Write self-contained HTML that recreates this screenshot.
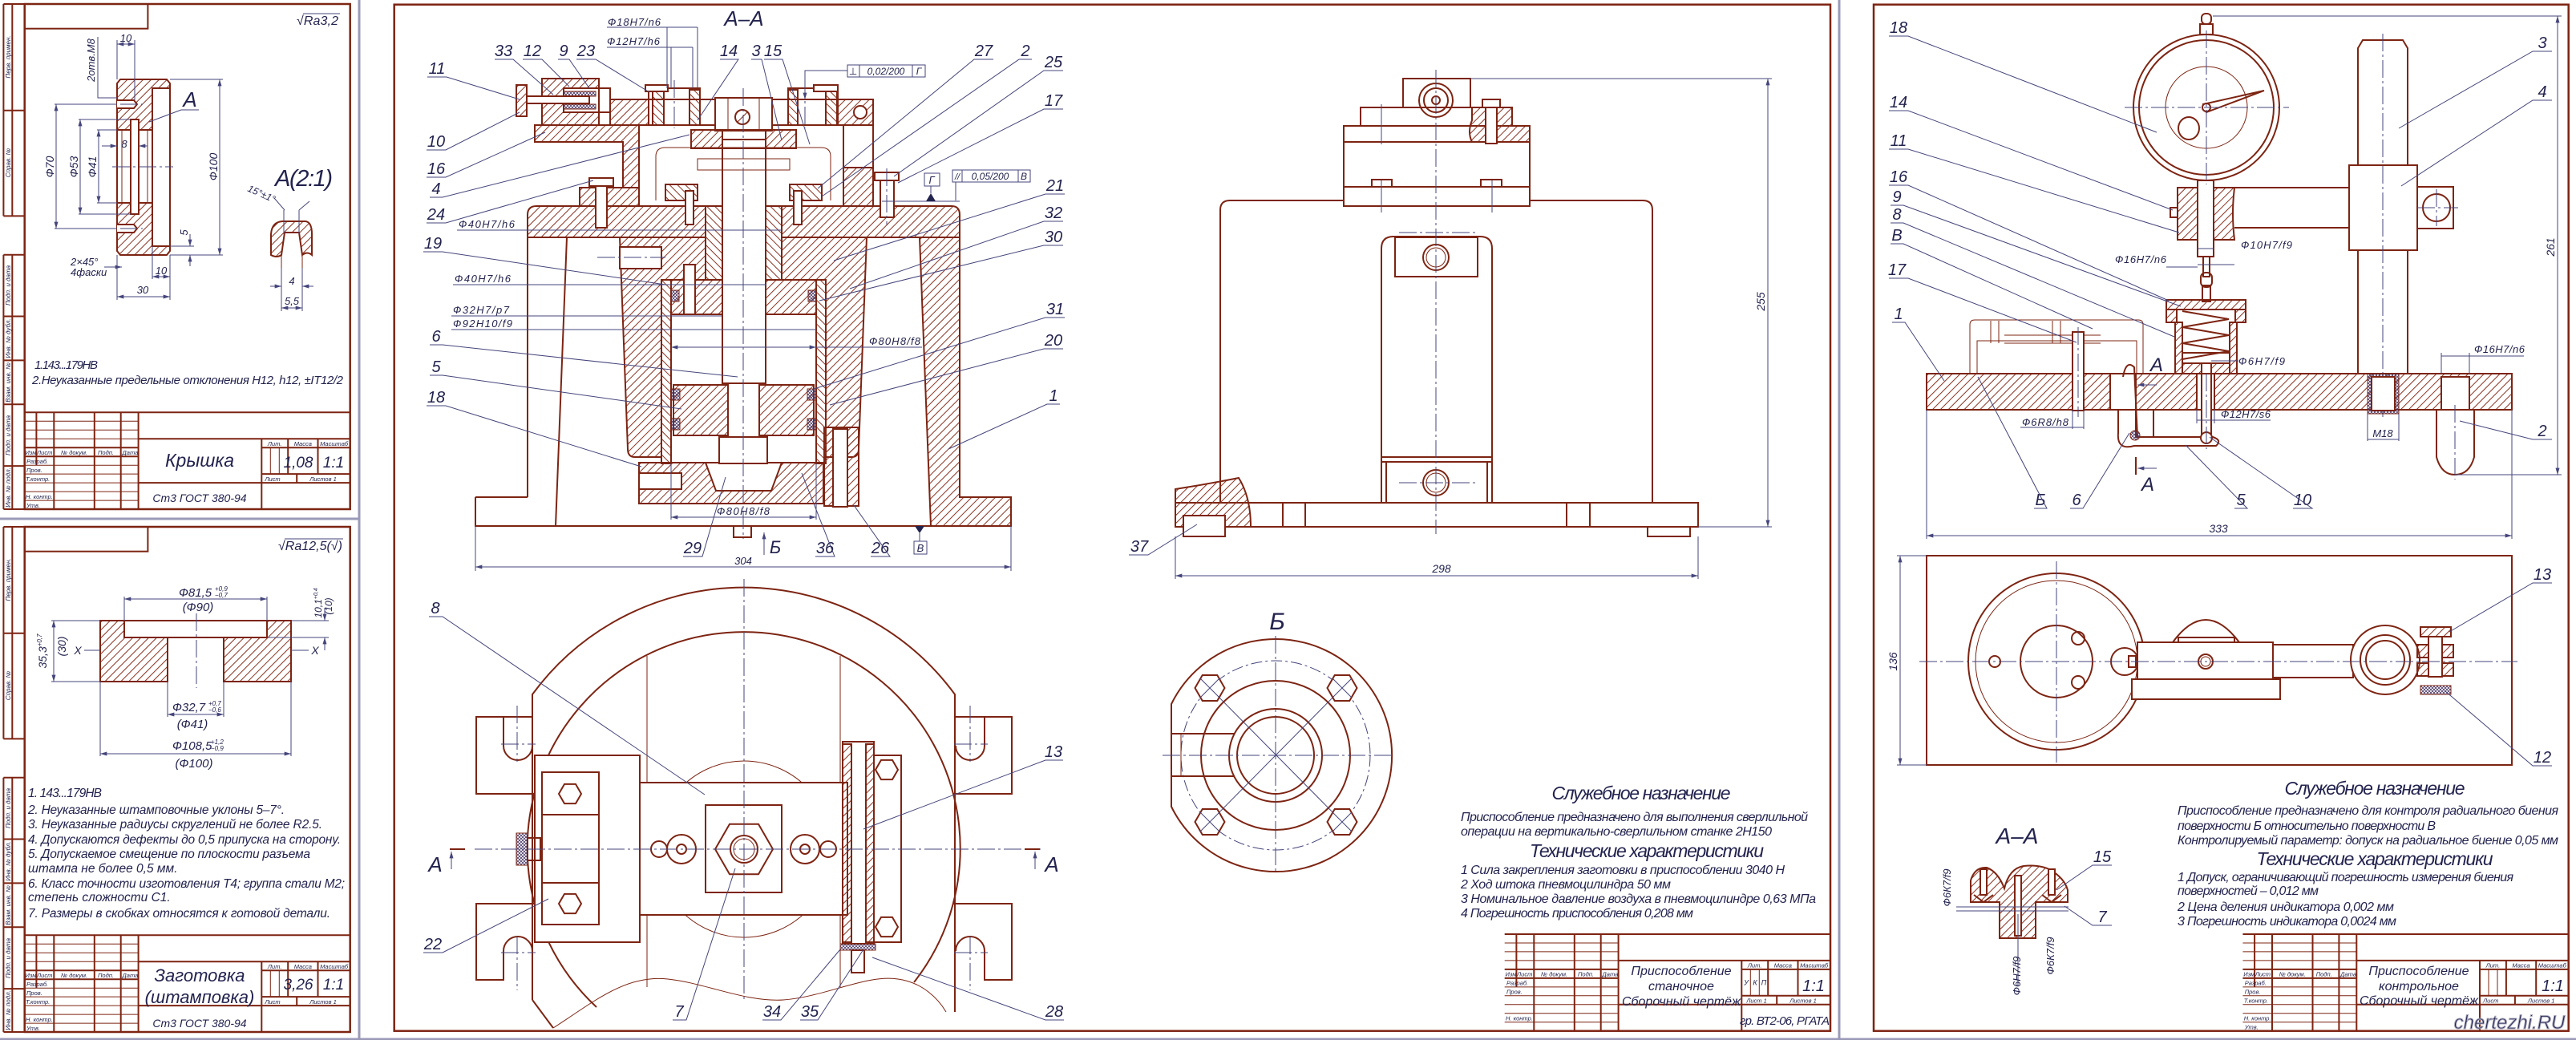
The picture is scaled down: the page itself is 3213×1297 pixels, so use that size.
<!DOCTYPE html>
<html lang="ru"><head><meta charset="utf-8"><title>Чертежи</title>
<style>html,body{margin:0;padding:0;background:#fff}svg{display:block}</style>
</head><body>
<svg xmlns="http://www.w3.org/2000/svg" width="3213" height="1297" viewBox="0 0 3213 1297">
<style>
.o{fill:none;stroke:#7d2412;stroke-width:2}
.ow{fill:#fff;stroke:#7d2412;stroke-width:2}
.t{fill:none;stroke:#7d2412;stroke-width:1}
.tw{fill:#fff;stroke:#7d2412;stroke-width:1}
.h{fill:url(#h1);stroke:#7d2412;stroke-width:2}
.k{fill:url(#h2);stroke:#7d2412;stroke-width:2}
.x{fill:url(#hx);stroke:#7d2412;stroke-width:1}
.d{fill:none;stroke:#45457c;stroke-width:1}
.da{fill:none;stroke:#45457c;stroke-width:1;marker-start:url(#ar);marker-end:url(#ar)}
.de{fill:none;stroke:#45457c;stroke-width:1;marker-end:url(#ar)}
.c{fill:none;stroke:#45457c;stroke-width:1;stroke-dasharray:22 4 3 4}
.g{fill:none;stroke:#9a9ab8;stroke-width:3}
.f{fill:none;stroke:#7d2412;stroke-width:2.5}
text{font-family:"Liberation Sans","DejaVu Sans",sans-serif;font-style:italic;fill:#23234f}
.m{text-anchor:middle}
</style>
<defs>
<pattern id="h1" width="7" height="7" patternUnits="userSpaceOnUse" patternTransform="rotate(45)"><line x1="0.5" y1="0" x2="0.5" y2="7" stroke="#8a3322" stroke-width="1"/></pattern>
<pattern id="h2" width="7" height="7" patternUnits="userSpaceOnUse" patternTransform="rotate(-45)"><line x1="0.5" y1="0" x2="0.5" y2="7" stroke="#8a3322" stroke-width="1"/></pattern>
<pattern id="hx" width="4" height="4" patternUnits="userSpaceOnUse"><path d="M0 0L4 4M4 0L0 4" stroke="#4a3a6a" stroke-width="0.8"/></pattern>
<marker id="ar" viewBox="0 0 10 6" refX="10" refY="3" markerWidth="9" markerHeight="5" orient="auto-start-reverse" markerUnits="userSpaceOnUse"><path d="M0 0L10 3L0 6z" fill="#45457c"/></marker>
</defs>
<rect width="3213" height="1297" fill="#fff"/>

<!-- page edges -->
<path class="g" d="M448 0V1296M0 1296H3213M2294 0V1296M0 647H448"/>

<!-- ================= LEFT SHEET 1 ================= -->
<g>
<rect x="30.7" y="5" width="406" height="630" class="f"/>
<path class="o" d="M4.4 5V269.4M15.3 5V269.4M4.4 5H30.7M4.4 137.7H30.7M4.4 269.4H30.7M4.4 317.7V635M15.3 317.7V635M4.4 317.7H30.7M4.4 394.5H30.7M4.4 449.4H30.7M4.4 504.3H30.7M4.4 581.1H30.7M4.4 635H30.7"/>
<rect x="30.7" y="5" width="153.7" height="30.7" class="o"/>
<g font-size="8">
<text transform="translate(13,71) rotate(-90)" class="m">Перв. примен.</text>
<text transform="translate(13,203) rotate(-90)" class="m">Справ. №</text>
<text transform="translate(13,356) rotate(-90)" class="m">Подп. и дата</text>
<text transform="translate(13,422) rotate(-90)" class="m">Инв. № дубл.</text>
<text transform="translate(13,477) rotate(-90)" class="m">Взам. инв. №</text>
<text transform="translate(13,543) rotate(-90)" class="m">Подп. и дата</text>
<text transform="translate(13,608) rotate(-90)" class="m">Инв. № подл.</text>
</g>
<path class="o" d="M30.7 514.3H436.7M172.6 514.3V635M67.3 514.3V635M117.8 514.3V635M150.7 514.3V635M45.4 514.3V580.2M172.6 547.2H436.7M172.6 602.1H436.7M326.3 547.2V635M326.3 558.2H436.7M326.3 591.1H436.7M359.2 547.2V591.1M396.5 547.2V591.1M370.2 591.1V602.1M30.7 558.2H172.6M30.7 569.2H172.6"/>
<path class="t" d="M30.7 525.3H172.6M30.7 536.2H172.6M30.7 547.2H172.6M30.7 580.2H172.6M30.7 591.1H172.6M30.7 602.1H172.6M30.7 613.1H172.6M30.7 624.1H172.6M337.3 558.2V591.1M348.3 558.2V591.1"/>
<g font-size="7.5">
<text x="31.5" y="567">Изм</text><text x="46" y="567">Лист</text><text x="76" y="567">№ докум.</text><text x="122" y="567">Подп.</text><text x="152.5" y="567">Дата</text>
<text x="33" y="578">Разраб.</text><text x="33" y="589">Пров.</text><text x="32" y="600">Т.контр.</text><text x="32" y="622">Н. контр.</text><text x="33" y="633">Утв.</text>
<text x="342.7" y="556" class="m">Лит.</text><text x="377.8" y="556" class="m">Масса</text><text x="416.6" y="556" class="m">Масштаб</text>
<text x="340" y="600" class="m">Лист</text><text x="403" y="600" class="m">Листов 1</text>
</g>
<text x="249" y="582" class="m" font-size="23">Крышка</text>
<text x="249" y="626" class="m" font-size="14">Ст3 ГОСТ 380-94</text>
<text x="372" y="583" class="m" font-size="19">1,08</text>
<text x="416" y="583" class="m" font-size="19">1:1</text>

<text x="370" y="31" font-size="16" textLength="52">√Ra3,2</text>
<path class="d" d="M378 17H424"/>

<path class="h" d="M146 104L150 99H208L212 104V110H190V162H146Z"/>
<path class="h" d="M146 253H190V307H212V313L208 318H150L146 313Z"/>
<rect x="146" y="162" width="44" height="91" class="ow"/>
<rect x="190" y="110" width="22" height="197" class="ow"/>
<rect x="163" y="149" width="10" height="118" class="ow"/>
<path class="t" d="M152 162V253M184 162V253"/>
<path class="ow" d="M146 125H167L171 130L167 135H146"/>
<path class="ow" d="M146 280H167L171 285L167 290H146"/>
<path class="c" d="M140 208H216M150 130H178M150 285H178"/>
<path class="d" d="M68 130H146M68 285H146M98 149H163M98 267H163M121 162H146M121 253H146M212 99H278M212 318H278"/>
<line class="da" x1="70" y1="130" x2="70" y2="285"/>
<line class="da" x1="100" y1="149" x2="100" y2="267"/>
<line class="da" x1="123" y1="162" x2="123" y2="253"/>
<line class="da" x1="274" y1="99" x2="274" y2="318"/>
<g font-size="14">
<text transform="translate(67,208) rotate(-90)" class="m">Ф70</text>
<text transform="translate(97,208) rotate(-90)" class="m">Ф53</text>
<text transform="translate(120,208) rotate(-90)" class="m">Ф41</text>
<text transform="translate(271,208) rotate(-90)" class="m">Ф100</text>
</g>
<path class="d" d="M146 50V99M168 50V125"/>
<line class="da" x1="146" y1="55" x2="168" y2="55"/>
<text x="157" y="52" class="m" font-size="13">10</text>
<path class="d" d="M122 46V122H146"/>
<text transform="translate(118,75) rotate(-90)" class="m" font-size="13">2отв.М8</text>
<text x="237" y="133" class="m" font-size="26">А</text>
<path class="d" d="M226 137H248M226 137L186 152"/>
<path class="de" d="M127 182H146"/><path class="de" d="M184 182H173"/>
<text x="155" y="184" class="m" font-size="13">8</text>
<path class="d" d="M212 307H242M212 318H242"/>
<path class="de" d="M237 292V307"/><path class="de" d="M237 332V318"/>
<text transform="translate(234,290) rotate(-90)" class="m" font-size="13">5</text>
<text x="88" y="331" font-size="13">2×45°</text>
<text x="88" y="344" font-size="13">4фаски</text>
<path class="de" d="M130 333H152"/>
<path class="d" d="M190 307V348M212 318V374M146 318V374"/>
<line class="da" x1="190" y1="345" x2="212" y2="345"/>
<text x="201" y="342" class="m" font-size="13">10</text>
<line class="da" x1="146" y1="370" x2="212" y2="370"/>
<text x="178" y="366" class="m" font-size="13">30</text>
<text x="343" y="232" font-size="29" textLength="72">А(2:1)</text>
<path class="h" d="M338 318V292Q339 277 352 276H381Q389 277 389 292V318Q383 313 377 318L373 290H355L351 318Q345 322 338 318Z"/>
<path class="t" d="M351 318V334M377 318V334"/>
<path class="d" d="M354 292V262M373 292V262M351 334V388M377 334V388M355 262L342 247M373 262L386 251"/>
<text transform="translate(308,238) rotate(24)" font-size="12">15°±1°</text>
<path class="de" d="M337 357H351"/><path class="de" d="M391 357H377"/>
<text x="364" y="355" class="m" font-size="13">4</text>
<line class="da" x1="351" y1="384" x2="377" y2="384"/>
<text x="364" y="380" class="m" font-size="13">5,5</text>
<text x="43" y="460" font-size="15" textLength="79">1.143...179НВ</text>
<text x="40" y="479" font-size="15" textLength="388">2.Неуказанные предельные отклонения H12, h12, ±IT12/2</text>
</g>

<!-- ================= LEFT SHEET 2 ================= -->
<g transform="translate(0,652)">
<rect x="30.7" y="5" width="406" height="630" class="f"/>
<path class="o" d="M4.4 5V269.4M15.3 5V269.4M4.4 5H30.7M4.4 137.7H30.7M4.4 269.4H30.7M4.4 317.7V635M15.3 317.7V635M4.4 317.7H30.7M4.4 394.5H30.7M4.4 449.4H30.7M4.4 504.3H30.7M4.4 581.1H30.7M4.4 635H30.7"/>
<rect x="30.7" y="5" width="153.7" height="30.7" class="o"/>
<g font-size="8">
<text transform="translate(13,71) rotate(-90)" class="m">Перв. примен.</text>
<text transform="translate(13,203) rotate(-90)" class="m">Справ. №</text>
<text transform="translate(13,356) rotate(-90)" class="m">Подп. и дата</text>
<text transform="translate(13,422) rotate(-90)" class="m">Инв. № дубл.</text>
<text transform="translate(13,477) rotate(-90)" class="m">Взам. инв. №</text>
<text transform="translate(13,543) rotate(-90)" class="m">Подп. и дата</text>
<text transform="translate(13,608) rotate(-90)" class="m">Инв. № подл.</text>
</g>
<path class="o" d="M30.7 514.3H436.7M172.6 514.3V635M67.3 514.3V635M117.8 514.3V635M150.7 514.3V635M45.4 514.3V580.2M172.6 547.2H436.7M172.6 602.1H436.7M326.3 547.2V635M326.3 558.2H436.7M326.3 591.1H436.7M359.2 547.2V591.1M396.5 547.2V591.1M370.2 591.1V602.1M30.7 558.2H172.6M30.7 569.2H172.6"/>
<path class="t" d="M30.7 525.3H172.6M30.7 536.2H172.6M30.7 547.2H172.6M30.7 580.2H172.6M30.7 591.1H172.6M30.7 602.1H172.6M30.7 613.1H172.6M30.7 624.1H172.6M337.3 558.2V591.1M348.3 558.2V591.1"/>
<g font-size="7.5">
<text x="31.5" y="567">Изм</text><text x="46" y="567">Лист</text><text x="76" y="567">№ докум.</text><text x="122" y="567">Подп.</text><text x="152.5" y="567">Дата</text>
<text x="33" y="578">Разраб.</text><text x="33" y="589">Пров.</text><text x="32" y="600">Т.контр.</text><text x="32" y="622">Н. контр.</text><text x="33" y="633">Утв.</text>
<text x="342.7" y="556" class="m">Лит.</text><text x="377.8" y="556" class="m">Масса</text><text x="416.6" y="556" class="m">Масштаб</text>
<text x="340" y="600" class="m">Лист</text><text x="403" y="600" class="m">Листов 1</text>
</g>
</g>
<text x="249" y="1224" class="m" font-size="22">Заготовка</text>
<text x="249" y="1251" class="m" font-size="22">(штамповка)</text>
<text x="249" y="1281" class="m" font-size="14">Ст3 ГОСТ 380-94</text>
<text x="372" y="1234" class="m" font-size="19">3,26</text>
<text x="416" y="1234" class="m" font-size="19">1:1</text>
<text x="347" y="686" font-size="16" textLength="80">√Ra12,5(√)</text>
<path class="d" d="M355 672H428"/>
<path class="h" d="M125 774H155V795H209V850H125Z"/>
<path class="h" d="M333 774H363V850H279V795H333Z"/>
<path class="o" d="M155 774H333V795H155M209 795V850M279 795V850"/>
<path class="c" d="M245 765V858M105 811H125M363 811H385"/>
<text x="97" y="816" class="m" font-size="14">X</text>
<text x="393" y="816" class="m" font-size="14">X</text>
<path class="d" d="M155 774V744M333 774V744M209 850V894M279 850V894M125 850V943M363 850V943M64 774H125M64 850H125M363 774H410M333 795H410"/>
<line class="da" x1="155" y1="747" x2="333" y2="747"/>
<text x="223" y="744" font-size="15">Ф81,5</text><text x="268" y="737" font-size="8">+0,9</text><text x="268" y="745" font-size="8">−0,7</text>
<text x="247" y="762" class="m" font-size="15">(Ф90)</text>
<line class="da" x1="209" y1="891" x2="279" y2="891"/>
<text x="215" y="887" font-size="15">Ф32,7</text><text x="260" y="880" font-size="8">+0,7</text><text x="260" y="888" font-size="8">−0,6</text>
<text x="240" y="908" class="m" font-size="15">(Ф41)</text>
<line class="da" x1="125" y1="940" x2="363" y2="940"/>
<text x="215" y="935" font-size="15">Ф108,5</text><text x="263" y="928" font-size="8">+1,2</text><text x="263" y="936" font-size="8">−0,9</text>
<text x="242" y="957" class="m" font-size="15">(Ф100)</text>
<line class="da" x1="67" y1="774" x2="67" y2="850"/>
<text transform="translate(58,812) rotate(-90)" class="m" font-size="14">35,3<tspan font-size="8" dy="-6">+0,7</tspan></text>
<text transform="translate(82,806) rotate(-90)" class="m" font-size="14">(30)</text>
<path class="de" d="M405 758V774"/><path class="de" d="M405 811V795"/>
<text transform="translate(401,752) rotate(-90)" class="m" font-size="12">10,1<tspan font-size="7" dy="-5">+0,4</tspan></text>
<text transform="translate(414,756) rotate(-90)" class="m" font-size="12">(10)</text>
<g font-size="15.5">
<text x="35" y="994" textLength="92">1. 143...179НВ</text>
<text x="35" y="1015" textLength="320">2. Неуказанные штамповочные уклоны 5–7°.</text>
<text x="35" y="1033" textLength="367">3. Неуказанные радиусы скруглений не более R2.5.</text>
<text x="35" y="1052" textLength="390">4. Допускаются дефекты до 0,5 припуска на сторону.</text>
<text x="35" y="1070" textLength="352">5. Допускаемое смещение по плоскости разъема</text>
<text x="35" y="1088">штампа не более 0,5 мм.</text>
<text x="35" y="1107" textLength="395">6. Класс точности изготовления Т4; группа стали М2;</text>
<text x="35" y="1124">степень сложности С1.</text>
<text x="35" y="1144" textLength="377">7. Размеры в скобках относятся к готовой детали.</text>
</g>

<!-- ================= MIDDLE SHEET ================= -->
<rect x="491.7" y="5.7" width="1791.3" height="1280" class="f"/>
<g transform="translate(1846,650.7)">
<path class="o" d="M30.7 514.3H436.7M172.6 514.3V635M67.3 514.3V635M117.8 514.3V635M150.7 514.3V635M45.4 514.3V580.2M172.6 547.2H436.7M172.6 602.1H436.7M326.3 547.2V635M326.3 558.2H436.7M326.3 591.1H436.7M359.2 547.2V591.1M396.5 547.2V591.1M370.2 591.1V602.1M30.7 558.2H172.6M30.7 569.2H172.6"/>
<path class="t" d="M30.7 525.3H172.6M30.7 536.2H172.6M30.7 547.2H172.6M30.7 580.2H172.6M30.7 591.1H172.6M30.7 602.1H172.6M30.7 613.1H172.6M30.7 624.1H172.6M337.3 558.2V591.1M348.3 558.2V591.1"/>
<g font-size="7.5">
<text x="31.5" y="567">Изм</text><text x="46" y="567">Лист</text><text x="76" y="567">№ докум.</text><text x="122" y="567">Подп.</text><text x="152.5" y="567">Дата</text>
<text x="33" y="578">Разраб.</text><text x="33" y="589">Пров.</text><text x="32" y="622">Н. контр.</text>
<text x="342.7" y="556" class="m">Лит.</text><text x="377.8" y="556" class="m">Масса</text><text x="416.6" y="556" class="m">Масштаб</text>
<text x="345" y="600" class="m">Лист 1</text><text x="403" y="600" class="m">Листов 1</text>
<text x="332" y="578" class="m" font-size="9">У</text><text x="343" y="578" class="m" font-size="9">К</text><text x="354" y="578" class="m" font-size="9">П</text>
</g>
</g>
<text x="2097" y="1216" class="m" font-size="16">Приспособление</text>
<text x="2097" y="1235" class="m" font-size="16">станочное</text>
<text x="2097" y="1254" class="m" font-size="16">Сборочный чертёж</text>
<text x="2262" y="1236" class="m" font-size="20">1:1</text>
<text x="2170" y="1278" font-size="15" textLength="112">гр. ВТ2-06, РГАТА</text>

<!-- ---- Section A-A ---- -->
<text x="928" y="32" class="m" font-size="26">А–А</text>
<path class="o" d="M593 620H658M593 620V656H1261V620"/>
<rect x="915" y="656" width="22" height="14" class="o"/>
<path class="h" d="M658 296V268Q658 257 669 257H880V296Z"/>
<path class="h" d="M975 257H1187Q1197 257 1197 268V296H975Z"/>
<path class="h" d="M773 296H880V349H825V570H792Q783 570 783 560Z"/>
<path class="h" d="M975 296H1081L1071 560Q1071 570 1062 570H1030V349H975Z"/>
<path class="h" d="M1147 296H1197V620H1261V656H1161Z"/>
<path class="o" d="M658 296V620M707 296L693 656"/>
<rect x="773" y="308" width="52" height="27" class="ow"/>
<path class="c" d="M745 321H830"/>
<rect x="825" y="349" width="12" height="229" class="k"/>
<rect x="1018" y="349" width="12" height="229" class="k"/>
<path class="h" d="M837 349H901V392H837Z"/>
<path class="h" d="M955 349H1018V392H955Z"/>
<rect x="853" y="330" width="14" height="62" class="ow"/>
<rect x="837" y="362" width="10" height="14" class="x"/>
<rect x="1008" y="362" width="10" height="14" class="x"/>
<path class="h" d="M840 480H1015V543H840Z"/>
<rect x="837" y="485" width="11" height="14" class="x"/>
<rect x="837" y="522" width="11" height="14" class="x"/>
<rect x="1007" y="485" width="11" height="14" class="x"/>
<rect x="1007" y="522" width="11" height="14" class="x"/>
<path class="h" d="M797 577H1027V628H797Z"/>
<rect x="797" y="590" width="53" height="20" class="ow"/>
<path class="ow" d="M880 577H975L962 612H893Z"/>
<rect x="897" y="545" width="60" height="33" class="ow"/>
<rect x="880" y="257" width="21" height="92" class="k"/>
<rect x="955" y="257" width="20" height="92" class="k"/>
<rect x="901" y="174" width="54" height="304" class="ow"/>
<rect x="908" y="478" width="39" height="67" class="ow"/>
<rect x="1028" y="533" width="43" height="98" class="h"/>
<rect x="1039" y="535" width="18" height="97" class="ow"/>
<path class="h" d="M667 156H797V234H777V177H667Z"/>
<rect x="723" y="234" width="74" height="23" class="h"/>
<rect x="743" y="228" width="14" height="56" class="ow"/>
<rect x="735" y="222" width="30" height="10" class="ow"/>
<rect x="747" y="124" width="342" height="32" class="o"/>
<rect x="761" y="124" width="48" height="32" class="h"/>
<rect x="1045" y="124" width="44" height="32" class="h"/>
<circle cx="1073" cy="140" r="8" class="ow"/>
<rect x="809" y="110" width="64" height="46" class="o"/>
<rect x="814" y="112" width="14" height="44" class="k"/>
<rect x="860" y="112" width="13" height="44" class="k"/>
<rect x="805" y="106" width="28" height="8" class="ow"/>
<rect x="983" y="110" width="62" height="46" class="o"/>
<rect x="983" y="112" width="12" height="44" class="k"/>
<rect x="1030" y="112" width="14" height="44" class="k"/>
<rect x="1015" y="106" width="30" height="8" class="ow"/>
<rect x="676" y="98" width="71" height="58" class="h"/>
<rect x="703" y="110" width="44" height="30" class="ow"/>
<rect x="703" y="114" width="40" height="6" class="x"/>
<rect x="703" y="130" width="40" height="6" class="x"/>
<rect x="747" y="110" width="14" height="30" class="ow"/>
<rect x="644" y="106" width="13" height="39" class="h"/>
<rect x="657" y="120" width="78" height="9" class="ow"/>
<rect x="892" y="122" width="71" height="41" class="ow"/>
<path class="t" d="M908 122V163M947 122V163"/>
<circle cx="926" cy="146" r="9" class="o"/><path class="t" d="M920 152L932 140"/>
<rect x="862" y="162" width="131" height="23" class="o"/>
<rect x="862" y="162" width="39" height="23" class="h"/>
<rect x="955" y="162" width="38" height="23" class="h"/>
<path class="t" d="M818 250V195Q818 184 830 184H1024Q1036 184 1036 195V250"/>
<path class="t" d="M870 198H985V212H870Z"/>
<rect x="830" y="230" width="40" height="20" class="k"/>
<rect x="985" y="230" width="40" height="20" class="k"/>
<rect x="855" y="238" width="10" height="42" class="ow"/>
<rect x="990" y="238" width="10" height="42" class="ow"/>
<path class="o" d="M1052 156V257M1089 124V257"/>
<rect x="1052" y="209" width="37" height="48" class="h"/>
<rect x="1091" y="215" width="30" height="10" class="ow"/>
<rect x="1098" y="225" width="17" height="46" class="ow"/>
<path class="c" d="M927 110V672M841 100V160M1004 100V160M1106 210V280"/>
<path class="d" d="M1100 251H1197"/>
<path d="M1155 251H1167L1161 241Z" fill="#23234f"/>
<path class="d" d="M1161 241V232"/>
<rect x="1153" y="216" width="19" height="16" class="d"/><text x="1162" y="229" class="m" font-size="13">Г</text>
<rect x="1188" y="212" width="97" height="15" class="d"/><path class="d" d="M1200 212V227M1270 212V227M1192 227V250"/>
<text x="1194" y="224" class="m" font-size="11">//</text><text x="1235" y="224" class="m" font-size="12">0,05/200</text><text x="1277" y="224" class="m" font-size="12">В</text>
<rect x="1057" y="81" width="97" height="15" class="d"/><path class="d" d="M1072 81V96M1138 81V96"/>
<path class="de" d="M1057 88H1004V124"/>
<text x="1064" y="93" class="m" font-size="12">⊥</text><text x="1105" y="93" class="m" font-size="12">0,02/200</text><text x="1146" y="93" class="m" font-size="12">Г</text>
<path d="M1141 656H1153L1147 665Z" fill="#23234f"/>
<path class="d" d="M1147 665V675"/>
<rect x="1140" y="675" width="16" height="16" class="d"/><text x="1148" y="688" class="m" font-size="13">В</text>
<path class="de" d="M953 692V664"/><text x="967" y="690" class="m" font-size="22">Б</text>
<path class="d" d="M832 34V110M870 34V110M757 34H870M837 59V110M864 59V110M757 59H864"/>
<text x="758" y="32" font-size="13" textLength="66">Ф18H7/n6</text>
<text x="757" y="56" font-size="13" textLength="66">Ф12H7/h6</text>
<path class="d" d="M570 287H975M565 355H956M563 394H900M563 411H1018"/>
<text x="572" y="284" font-size="13" textLength="70">Ф40H7/h6</text>
<text x="567" y="352" font-size="13" textLength="70">Ф40H7/h6</text>
<text x="565" y="391" font-size="13" textLength="70">Ф32H7/p7</text>
<text x="565" y="408" font-size="13" textLength="74">Ф92H10/f9</text>
<line class="da" x1="837" y1="433" x2="1018" y2="433"/><path class="d" d="M1018 433H1150"/>
<text x="1084" y="430" font-size="13" textLength="64">Ф80H8/f8</text>
<path class="d" d="M837 578V648M1018 578V648"/>
<line class="da" x1="837" y1="645" x2="1018" y2="645"/>
<text x="894" y="642" font-size="13" textLength="66">Ф80H8/f8</text>
<path class="d" d="M593 656V712M1261 656V712"/>
<line class="da" x1="593" y1="707" x2="1261" y2="707"/>
<text x="927" y="704" class="m" font-size="13">304</text>
<g font-size="20">
<text x="545" y="92" class="m">11</text><text x="628" y="70" class="m">33</text><text x="664" y="70" class="m">12</text><text x="703" y="70" class="m">9</text><text x="731" y="70" class="m">23</text>
<text x="909" y="70" class="m">14</text><text x="943" y="70" class="m">3</text><text x="964" y="70" class="m">15</text>
<text x="544" y="183" class="m">10</text><text x="544" y="217" class="m">16</text><text x="544" y="242" class="m">4</text><text x="544" y="274" class="m">24</text>
<text x="540" y="310" class="m">19</text><text x="544" y="426" class="m">6</text><text x="544" y="464" class="m">5</text><text x="544" y="502" class="m">18</text>
<text x="864" y="690" class="m">29</text><text x="1029" y="690" class="m">36</text><text x="1098" y="690" class="m">26</text>
<text x="1227" y="70" class="m">27</text><text x="1279" y="70" class="m">2</text><text x="1314" y="84" class="m">25</text><text x="1314" y="132" class="m">17</text>
<text x="1316" y="238" class="m">21</text><text x="1314" y="272" class="m">32</text><text x="1314" y="302" class="m">30</text><text x="1316" y="392" class="m">31</text>
<text x="1314" y="431" class="m">20</text><text x="1314" y="500" class="m">1</text>
</g>
<path class="d" d="M533 96H557L648 124M617 74H640L690 118M652 74H676L710 108M696 74H710L735 110M719 74H743L810 115M898 74H921L870 150M937 74H950L975 175M953 74H976L1010 180M532 187H556L648 140M532 221H556L680 165M536 246H552L860 168M532 278H556L740 225M528 314H552L830 355M536 430H552L920 470M536 468H552L850 510M532 506H556L800 582M852 694H876L905 595M1017 694H1041L1000 590M1086 694H1110L1065 630M1239 74H1215L1020 235M1287 74H1271L1025 245M1326 88H1302L1115 220M1326 136H1302L1120 228M1328 242H1304L1040 325M1326 276H1302L1060 360M1326 306H1302L1022 375M1328 396H1304L1015 485M1326 435H1302L1035 505M1322 504H1306L1183 560"/>

<!-- ---- side view ---- -->
<path class="o" d="M1750 134V98H1834V134"/>
<rect x="1697" y="134" width="189" height="23" class="o"/>
<rect x="1676" y="157" width="232" height="20" class="o"/>
<rect x="1676" y="177" width="232" height="56" class="o"/>
<rect x="1676" y="233" width="232" height="24" class="o"/>
<path class="h" d="M1836 134H1886V157H1908V177H1836Q1830 165 1836 150Z"/>
<rect x="1849" y="124" width="22" height="10" class="ow"/>
<rect x="1853" y="134" width="14" height="45" class="ow"/>
<circle cx="1791" cy="125" r="21" class="o"/><circle cx="1791" cy="125" r="15" class="o"/><circle cx="1791" cy="125" r="5" class="o"/>
<rect x="1711" y="224" width="25" height="9" class="o"/><rect x="1847" y="224" width="26" height="9" class="o"/>
<path class="d" d="M1723 130V180M1723 225V265M1861 225V265"/>
<path class="o" d="M1522 627V262Q1522 250 1534 250H1676M1908 250H2049Q2061 250 2061 262V627"/>
<path class="o" d="M1723 627V310Q1723 295 1738 295H1846Q1861 295 1861 310V627"/>
<rect x="1740" y="296" width="103" height="49" class="o"/>
<circle cx="1791" cy="321" r="16" class="o"/><circle cx="1791" cy="321" r="12" class="t"/>
<path class="o" d="M1723 570H1861M1723 576H1861"/>
<rect x="1729" y="576" width="126" height="51" class="o"/>
<circle cx="1791" cy="602" r="16" class="o"/><circle cx="1791" cy="602" r="12" class="t"/>
<rect x="1466" y="627" width="652" height="30" class="o"/>
<path class="o" d="M1600 627V657M1628 627V657M1954 627V657M1983 627V657"/>
<path class="h" d="M1466 627V610Q1505 604 1545 596Q1560 620 1560 657H1466Z"/>
<rect x="1476" y="643" width="52" height="26" class="ow"/>
<rect x="2055" y="657" width="53" height="12" class="o"/>
<path class="c" d="M1791 87V666M1745 290H1840M1745 602H1840"/>
<path class="d" d="M1834 98H2210M2118 657H2210M1466 669V722M2118 669V722"/>
<line class="da" x1="2205" y1="98" x2="2205" y2="657"/>
<text transform="translate(2201,376) rotate(-90)" class="m" font-size="14">255</text>
<line class="da" x1="1466" y1="718" x2="2118" y2="718"/>
<text x="1798" y="714" class="m" font-size="14">298</text>
<text x="1421" y="688" class="m" font-size="20">37</text>
<path class="d" d="M1408 692H1432L1493 654"/>

<!-- ---- plan view ---- -->
<path class="o" d="M664 1247V866A327 327 0 0 1 1191 866V1262"/>
<path class="o" d="M664 1247L690 1282"/>
<path class="t" d="M690 1282C740 1250 780 1215 833 1221C880 1226 930 1250 977 1247C1030 1243 1080 1215 1120 1221C1150 1225 1170 1245 1180 1262"/>
<path class="o" d="M664 894H594V990H667M628 894V930A18 18 0 0 0 664 930"/>
<path class="o" d="M667 1127H594V1222H628V1186A18 18 0 0 1 664 1186"/>
<path class="o" d="M1192 894H1262V990H1189M1228 894V930A18 18 0 0 1 1192 930"/>
<path class="o" d="M1189 1127H1262V1222H1228V1186A18 18 0 0 0 1192 1186"/>
<path class="c" d="M645 880V950M625 928H668M645 1168V1235M625 1188H668M1210 880V950M1190 928H1232M1210 1168V1235M1190 1188H1232"/>
<path class="o" d="M744 1256A270 270 0 1 1 1140 1225"/>
<path class="t" d="M807 818V1231M1048 818V1231"/>
<circle cx="928" cy="1059" r="110" class="t"/>
<rect x="753" y="976" width="304" height="165" class="ow"/>
<path class="t" d="M761 976V1141"/>
<rect x="667" y="942" width="131" height="233" class="ow"/>
<rect x="676" y="963" width="71" height="190" class="o"/>
<path class="o" d="M676 1016H747M676 1101H747"/>
<polygon points="697,990 704,977.9 718,977.9 725,990 718,1002.1 704,1002.1" class="o"/>
<polygon points="697,1127 704,1114.9 718,1114.9 725,1127 718,1139.1 704,1139.1" class="o"/>
<rect x="644" y="1039" width="14" height="40" class="x"/>
<rect x="658" y="1045" width="16" height="28" class="o"/>
<rect x="880" y="1004" width="95" height="109" class="o"/>
<polygon points="892,1059 910,1027.8 946,1027.8 964,1059 946,1090.2 910,1090.2" class="o"/>
<circle cx="928" cy="1059" r="17" class="o"/><circle cx="928" cy="1059" r="13" class="t"/>
<circle cx="850" cy="1059" r="18" class="o"/><circle cx="850" cy="1059" r="6" class="o"/>
<circle cx="1004" cy="1059" r="18" class="o"/><circle cx="1004" cy="1059" r="6" class="o"/>
<circle cx="822" cy="1059" r="10" class="o"/><circle cx="1033" cy="1059" r="10" class="o"/>
<rect x="1051" y="925" width="39" height="252" class="o"/>
<rect x="1051" y="928" width="11" height="247" class="h"/>
<rect x="1080" y="928" width="10" height="247" class="h"/>
<rect x="1090" y="942" width="34" height="233" class="o"/>
<polygon points="1092,960 1099,947.9 1113,947.9 1120,960 1113,972.1 1099,972.1" class="o"/>
<polygon points="1092,1156 1099,1143.9 1113,1143.9 1120,1156 1113,1168.1 1099,1168.1" class="o"/>
<rect x="1048" y="1177" width="44" height="8" class="x"/>
<rect x="1062" y="1185" width="16" height="28" class="o"/>
<path class="c" d="M592 1059H1298M928 722V1248"/>
<path class="o" d="M561 1059H580M1278 1059H1297" stroke-width="3"/>
<path class="de" d="M563 1084V1062"/><path class="de" d="M1291 1084V1062"/>
<text x="543" y="1087" class="m" font-size="26">А</text>
<text x="1312" y="1087" class="m" font-size="26">А</text>
<g font-size="20">
<text x="543" y="765" class="m">8</text><text x="1314" y="944" class="m">13</text><text x="540" y="1184" class="m">22</text>
<text x="847" y="1268" class="m">7</text><text x="963" y="1268" class="m">34</text><text x="1010" y="1268" class="m">35</text><text x="1315" y="1268" class="m">28</text>
</g>
<path class="d" d="M535 769H552L879 991M1326 948H1304L1077 1034M528 1188H552L684 1121M839 1272H856L917 1083M951 1272H974L1048 1184M998 1272H1020L1077 1184M1327 1272H1304L1088 1194"/>

<!-- ---- view Б ---- -->
<text x="1593" y="785" class="m" font-size="30">Б</text>
<path class="o" d="M1461 878A145 145 0 1 1 1461 1006Z"/>
<circle cx="1591" cy="942" r="118" class="d" stroke-dasharray="14 4 3 4"/>
<circle cx="1591" cy="942" r="93" class="o"/>
<circle cx="1591" cy="942" r="58" class="o"/>
<circle cx="1591" cy="942" r="48" class="o"/>
<path class="o" d="M1461 915H1539M1461 968H1539"/>
<path class="t" d="M1473 915V968"/>
<path class="d" d="M1509 858L1674 1025M1674 858L1509 1025"/>
<polygon points="1490.5,858 1499.75,842 1518.25,842 1527.5,858 1518.25,874 1499.75,874" class="ow"/>
<polygon points="1655.5,858 1664.75,842 1683.25,842 1692.5,858 1683.25,874 1664.75,874" class="ow"/>
<polygon points="1490.5,1025 1499.75,1009 1518.25,1009 1527.5,1025 1518.25,1041 1499.75,1041" class="ow"/>
<polygon points="1655.5,1025 1664.75,1009 1683.25,1009 1692.5,1025 1683.25,1041 1664.75,1041" class="ow"/>
<path class="d" d="M1497 846L1521 870M1521 846L1497 870M1662 846L1686 870M1686 846L1662 870M1497 1013L1521 1037M1521 1013L1497 1037M1662 1013L1686 1037M1686 1013L1662 1037"/>
<path class="c" d="M1450 942H1740M1591 793V1090"/>

<!-- ---- middle text ---- -->
<text x="2047" y="997" class="m" font-size="23" textLength="223">Служебное назначение</text>
<g font-size="16">
<text x="1822" y="1024" textLength="433">Приспособление предназначено для выполнения сверлильной</text>
<text x="1822" y="1042" textLength="388">операции на вертикально-сверлильном станке 2Н150</text>
</g>
<text x="2054" y="1069" class="m" font-size="23" textLength="292">Технические характеристики</text>
<g font-size="16">
<text x="1822" y="1090" textLength="404">1 Сила закрепления заготовки в приспособлении 3040 Н</text>
<text x="1822" y="1108" textLength="262">2 Ход штока пневмоцилиндра 50 мм</text>
<text x="1822" y="1126" textLength="443">3 Номинальное давление воздуха в пневмоцилиндре 0,63 МПа</text>
<text x="1822" y="1144" textLength="290">4 Погрешность приспособления 0,208 мм</text>
</g>

<!-- ================= RIGHT SHEET ================= -->
<rect x="2337" y="5.7" width="866.7" height="1280" class="f"/>
<g transform="translate(2766.7,650.7)">
<path class="o" d="M30.7 514.3H436.7M172.6 514.3V635M67.3 514.3V635M117.8 514.3V635M150.7 514.3V635M45.4 514.3V580.2M172.6 547.2H436.7M172.6 602.1H436.7M326.3 547.2V635M326.3 558.2H436.7M326.3 591.1H436.7M359.2 547.2V591.1M396.5 547.2V591.1M370.2 591.1V602.1M30.7 558.2H172.6M30.7 569.2H172.6"/>
<path class="t" d="M30.7 525.3H172.6M30.7 536.2H172.6M30.7 547.2H172.6M30.7 580.2H172.6M30.7 591.1H172.6M30.7 602.1H172.6M30.7 613.1H172.6M30.7 624.1H172.6M337.3 558.2V591.1M348.3 558.2V591.1"/>
<g font-size="7.5">
<text x="31.5" y="567">Изм</text><text x="46" y="567">Лист</text><text x="76" y="567">№ докум.</text><text x="122" y="567">Подп.</text><text x="152.5" y="567">Дата</text>
<text x="33" y="578">Разраб.</text><text x="33" y="589">Пров.</text><text x="32" y="600">Т.контр.</text><text x="32" y="622">Н. контр.</text><text x="33" y="633">Утв.</text>
<text x="342.7" y="556" class="m">Лит.</text><text x="377.8" y="556" class="m">Масса</text><text x="416.6" y="556" class="m">Масштаб</text>
<text x="340" y="600" class="m">Лист</text><text x="403" y="600" class="m">Листов 1</text>
</g>
</g>
<text x="3017" y="1216" class="m" font-size="16">Приспособление</text>
<text x="3017" y="1235" class="m" font-size="16">контрольное</text>
<text x="3017" y="1253" class="m" font-size="16">Сборочный чертёж</text>
<text x="3184" y="1236" class="m" font-size="20">1:1</text>
<text x="3130" y="1283" class="m" font-size="24" fill="#e4e4ec" stroke="#a8a8bc" stroke-width="1">chertezhi.RU</text>

<!-- front view -->
<circle cx="2752" cy="134" r="91" class="o"/>
<circle cx="2752" cy="134" r="84" class="o"/>
<circle cx="2752" cy="134" r="51" class="t"/>
<ellipse cx="2730" cy="160" rx="13" ry="14" class="o"/>
<path class="o" d="M2748 130L2824 113L2752 140Z"/>
<circle cx="2752" cy="134" r="5" class="ow"/>
<path class="c" d="M2650 134H2855M2752 38V230"/>
<rect x="2744" y="30" width="16" height="13" class="o"/>
<rect x="2746" y="17" width="12" height="13" rx="5" class="o"/>
<rect x="2741" y="225" width="20" height="95" class="o"/>
<rect x="2716" y="234" width="25" height="65" class="h"/>
<path class="h" d="M2761 234H2787Q2783 266 2787 299H2761Z"/>
<rect x="2707" y="259" width="9" height="12" class="o"/>
<path class="o" d="M2787 234H2932M2787 284H2932"/>
<rect x="2748" y="320" width="8" height="25" class="o"/>
<rect x="2745" y="340" width="14" height="18" rx="6" class="o"/>
<rect x="2747" y="356" width="10" height="20" class="o"/>
<path class="o" d="M2941 466V60L2947 50H2997L3003 60V466"/>
<rect x="2930" y="206" width="85" height="106" class="ow"/>
<rect x="3015" y="233" width="45" height="52" class="o"/>
<circle cx="3039" cy="259" r="17" class="o"/>
<path class="c" d="M2972 42V520M3015 259H3066M3039 236V282"/>
<rect x="2702" y="374" width="99" height="12" class="h"/>
<rect x="2702" y="386" width="13" height="16" class="h"/>
<rect x="2788" y="386" width="13" height="16" class="h"/>
<rect x="2713" y="402" width="9" height="64" class="h"/>
<rect x="2781" y="402" width="9" height="64" class="h"/>
<path class="o" d="M2722 388L2780 398L2722 408L2780 418L2722 428L2780 438L2722 448" stroke-width="2.5"/>
<rect x="2722" y="440" width="59" height="13" class="o"/>
<path class="h" d="M2722 453H2746V466H2722Z"/><path class="h" d="M2758 453H2781V466H2758Z"/>
<rect x="2403" y="466" width="730" height="45" class="h"/>
<rect x="2585" y="466" width="14" height="45" class="ow"/>
<rect x="2632" y="466" width="32" height="45" class="ow"/>
<rect x="2740" y="466" width="22" height="45" class="ow"/>
<rect x="2953" y="466" width="39" height="50" class="x"/>
<rect x="2958" y="470" width="29" height="42" class="ow"/>
<rect x="3045" y="470" width="35" height="41" class="ow"/>
<path class="o" d="M3039 511V570Q3045 592 3062 592Q3080 592 3086 570V511"/>
<path class="o" d="M2648 470Q2652 448 2662 458L2666 545H2760Q2772 549 2764 556H2662Q2640 562 2642 540V511"/>
<rect x="2664" y="511" width="22" height="34" class="o"/>
<circle cx="2663" cy="543" r="6" class="x"/>
<rect x="2746" y="466" width="12" height="79" class="ow"/>
<circle cx="2752" cy="546" r="7" class="ow"/>
<path class="t" d="M2457 466V405Q2457 399 2463 399H2667Q2673 399 2673 405V466M2466 466V425H2665V466M2483 400V428M2493 400V428M2560 400V428M2570 400V428M2500 418H2620M2500 428H2620"/>
<rect x="2585" y="414" width="14" height="98" class="ow"/>
<path class="c" d="M2592 408V520M2752 466V560M3062 505V598"/>
<path class="d" d="M2760 20H3195M3062 592H3195M2403 511V672M3133 511V672"/>
<line class="da" x1="3190" y1="20" x2="3190" y2="592"/>
<text transform="translate(3186,308) rotate(-90)" class="m" font-size="14">261</text>
<line class="da" x1="2403" y1="668" x2="3133" y2="668"/>
<text x="2767" y="664" class="m" font-size="14">333</text>
<path class="o" d="M2664 468V494M2664 570V592" stroke-width="2.5"/>
<path class="de" d="M2690 480H2666"/><path class="de" d="M2690 584H2666"/>
<text x="2690" y="463" class="m" font-size="24">А</text>
<text x="2679" y="612" class="m" font-size="24">А</text>
<g font-size="13">
<path class="d" d="M2741 310H2761M2741 330H2787"/>
<text x="2795" y="310" font-size="13" textLength="64">Ф10H7/f9</text>
<text x="2638" y="328" font-size="13" textLength="64">Ф16H7/n6</text>
<path class="d" d="M2702 333H2741"/>
<text x="2792" y="455" font-size="13" textLength="58">Ф6H7/f9</text>
<path class="d" d="M2758 450H2792M3045 440V466M3080 440V466M3045 444H3148"/>
<text x="3086" y="440" font-size="13" textLength="63">Ф16H7/n6</text>
<path class="d" d="M2585 511V535M2599 511V535M2520 533H2599"/>
<text x="2522" y="531" font-size="13" textLength="58">Ф6R8/h8</text>
<path class="d" d="M2740 511V528M2762 511V528M2740 524H2832"/>
<text x="2770" y="521" font-size="13" textLength="62">Ф12H7/s6</text>
<path class="d" d="M2953 516V550M2992 516V550M2953 548H2992"/>
<text x="2972" y="545" class="m" font-size="13">M18</text>
</g>
<g font-size="20">
<text x="2368" y="41" class="m">18</text><text x="2368" y="134" class="m">14</text><text x="2368" y="182" class="m">11</text><text x="2368" y="227" class="m">16</text>
<text x="2366" y="252" class="m">9</text><text x="2366" y="274" class="m">8</text><text x="2366" y="300" class="m">В</text><text x="2366" y="343" class="m">17</text>
<text x="2368" y="398" class="m">1</text><text x="3171" y="60" class="m">3</text><text x="3171" y="121" class="m">4</text><text x="3171" y="544" class="m">2</text>
<text x="2545" y="630" class="m">Б</text><text x="2590" y="630" class="m">6</text><text x="2795" y="630" class="m">5</text><text x="2872" y="630" class="m">10</text>
</g>
<path class="d" d="M2356 45H2380L2690 165M2356 138H2380L2710 262M2356 186H2380L2718 290M2356 231H2380L2705 375M2358 256H2374L2720 382M2358 278H2374L2712 420M2358 304H2374L2610 410M2356 347H2380L2590 427M2360 402H2376L2425 475M3183 64H3159L2992 160M3183 125H3159L2995 232M3183 548H3159L3068 525M2537 634H2553L2467 470M2582 634H2598L2656 540M2787 634H2803L2726 555M2860 634H2884L2756 545"/>

<!-- top view -->
<rect x="2403" y="693" width="730" height="261" class="o"/>
<path class="d" d="M2366 693H2403M2366 954H2403"/>
<line class="da" x1="2370" y1="693" x2="2370" y2="954"/>
<text transform="translate(2366,825) rotate(-90)" class="m" font-size="14">136</text>
<circle cx="2565" cy="825" r="110" class="o"/>
<circle cx="2565" cy="825" r="101" class="t"/>
<circle cx="2565" cy="825" r="45" class="o"/>
<circle cx="2592" cy="796" r="8" class="o"/><circle cx="2592" cy="851" r="8" class="o"/><circle cx="2488" cy="825" r="7" class="o"/>
<path class="ow" d="M2710 801Q2751 745 2793 801Z"/>
<rect x="2717" y="795" width="70" height="6" class="o"/>
<circle cx="2650" cy="825" r="17" class="ow"/>
<rect x="2655" y="818" width="9" height="14" class="o"/>
<rect x="2666" y="801" width="169" height="46" class="ow"/>
<rect x="2659" y="847" width="185" height="25" class="ow"/>
<circle cx="2751" cy="825" r="9" class="o"/><circle cx="2751" cy="825" r="6" class="t"/>
<rect x="2835" y="804" width="100" height="41" class="ow"/>
<circle cx="2975" cy="823" r="43" class="ow"/>
<circle cx="2975" cy="823" r="31" class="o"/>
<circle cx="2975" cy="823" r="24" class="o"/>
<rect x="3015" y="804" width="45" height="16" class="h"/>
<rect x="3015" y="827" width="45" height="16" class="h"/>
<rect x="3019" y="782" width="38" height="12" class="h"/>
<rect x="3029" y="794" width="17" height="50" class="ow"/>
<rect x="3019" y="855" width="38" height="11" class="x"/>
<path class="c" d="M2394 825H3140M2565 700V951"/>
<text x="3171" y="723" class="m" font-size="20">13</text>
<text x="3171" y="951" class="m" font-size="20">12</text>
<path class="d" d="M3183 727H3159L3055 788M3183 955H3159L3050 862"/>

<!-- right text -->
<text x="2962" y="991" class="m" font-size="23" textLength="225">Служебное назначение</text>
<g font-size="16">
<text x="2716" y="1016" textLength="475">Приспособление предназначено для контроля радиального биения</text>
<text x="2716" y="1035" textLength="322">поверхности Б относительно поверхности В</text>
<text x="2716" y="1053" textLength="475">Контролируемый параметр: допуск на радиальное биение 0,05 мм</text>
</g>
<text x="2962" y="1079" class="m" font-size="23" textLength="295">Технические характеристики</text>
<g font-size="16">
<text x="2716" y="1099" textLength="419">1 Допуск, ограничивающий погрешность измерения биения</text>
<text x="2716" y="1116" textLength="176">поверхностей – 0,012 мм</text>
<text x="2716" y="1136" textLength="270">2 Цена деления индикатора 0,002 мм</text>
<text x="2716" y="1154" textLength="273">3 Погрешность индикатора 0,0024 мм</text>
</g>

<!-- right A-A detail -->
<text x="2516" y="1052" class="m" font-size="28">А–А</text>
<path class="h" d="M2458 1125V1098Q2463 1081 2478 1082Q2492 1087 2500 1108Q2506 1083 2524 1080Q2542 1078 2556 1084Q2575 1095 2579 1110V1125H2539V1170H2494V1125Z"/>
<rect x="2513" y="1092" width="8" height="75" class="ow"/>
<rect x="2470" y="1084" width="8" height="32" class="ow"/>
<rect x="2555" y="1084" width="8" height="32" class="ow"/>
<path class="o" d="M2462 1116L2474 1125L2486 1116M2547 1116L2559 1125L2571 1116"/>
<path class="d" d="M2440 1131H2580M2440 1136H2580M2517 1140V1230"/>
<text transform="translate(2433,1107) rotate(-90)" class="m" font-size="13">Ф6К7/f9</text>
<text transform="translate(2520,1217) rotate(-90)" class="m" font-size="13">Ф6H7/f9</text>
<text transform="translate(2562,1192) rotate(-90)" class="m" font-size="13">Ф6К7/f9</text>
<text x="2622" y="1075" class="m" font-size="20">15</text>
<text x="2622" y="1150" class="m" font-size="20">7</text>
<path class="d" d="M2634 1079H2610L2565 1110M2634 1154H2610L2575 1130"/>
</svg>
</body></html>
